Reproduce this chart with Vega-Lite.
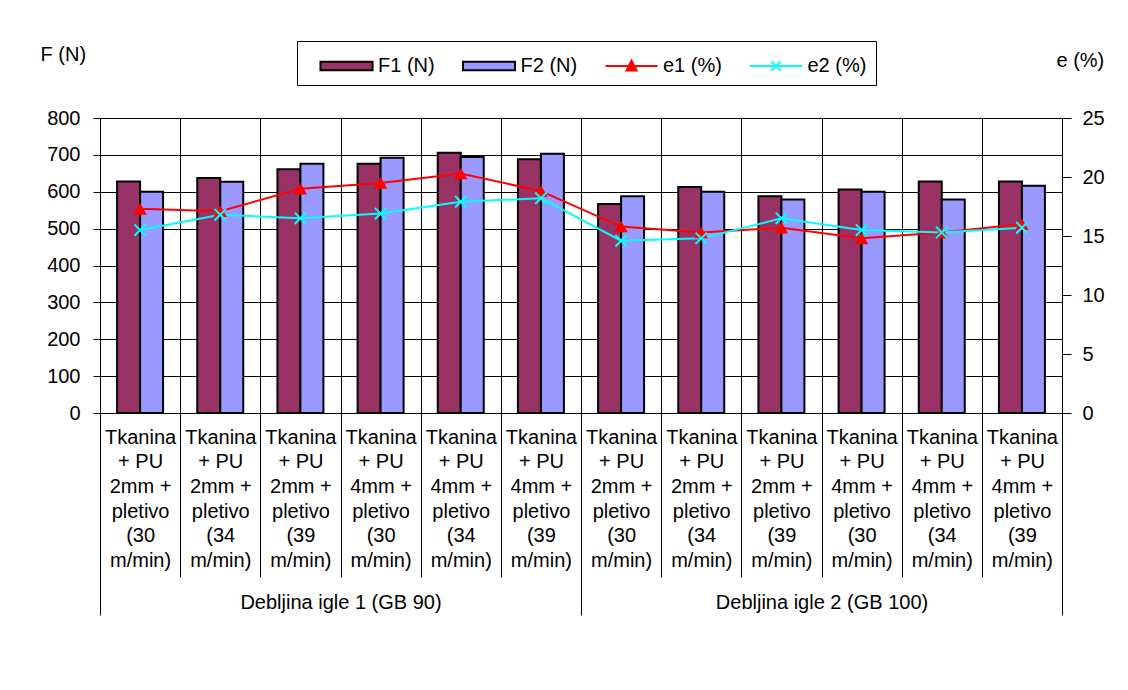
{
  "$schema": "https://vega.github.io/schema/vega-lite/v6.json",
  "autosize": "none",
  "padding": {"left": 100, "top": 118, "right": 66, "bottom": 277},
  "width": 962,
  "height": 295,
  "config": {
    "font": "Liberation Sans",
    "view": {"stroke": "#000", "strokeWidth": 1},
    "axis": {"labelFont": "Liberation Sans", "titleFont": "Liberation Sans", "labelColor": "#000", "titleColor": "#000", "domainColor": "#000", "tickColor": "#000", "gridColor": "#000", "gridOpacity": 1, "labelFontSize": 20, "titleFontSize": 20, "titleFontWeight": "normal"},
    "legend": {"labelFont": "Liberation Sans", "labelFontSize": 20, "labelColor": "#000", "symbolStrokeWidth": 2, "symbolOpacity": 1}
  },
  "data": {
    "values": [
      {"label": "a|Tkanina|+ PU|2mm +|pletivo|(30|m/min)", "group": "Debljina igle 1 (GB 90)", "F1": 628, "F2": 600, "e1": 17.3, "e2": 15.5},
      {"label": "b|Tkanina|+ PU|2mm +|pletivo|(34|m/min)", "group": "Debljina igle 1 (GB 90)", "F1": 637, "F2": 627, "e1": 17.1, "e2": 16.8},
      {"label": "c|Tkanina|+ PU|2mm +|pletivo|(39|m/min)", "group": "Debljina igle 1 (GB 90)", "F1": 661, "F2": 676, "e1": 19.0, "e2": 16.5},
      {"label": "d|Tkanina|+ PU|4mm +|pletivo|(30|m/min)", "group": "Debljina igle 1 (GB 90)", "F1": 676, "F2": 692, "e1": 19.5, "e2": 16.9},
      {"label": "e|Tkanina|+ PU|4mm +|pletivo|(34|m/min)", "group": "Debljina igle 1 (GB 90)", "F1": 706, "F2": 694, "e1": 20.3, "e2": 17.9},
      {"label": "f|Tkanina|+ PU|4mm +|pletivo|(39|m/min)", "group": "Debljina igle 1 (GB 90)", "F1": 688, "F2": 703, "e1": 18.8, "e2": 18.2},
      {"label": "g|Tkanina|+ PU|2mm +|pletivo|(30|m/min)", "group": "Debljina igle 2 (GB 100)", "F1": 567, "F2": 588, "e1": 15.8, "e2": 14.6},
      {"label": "h|Tkanina|+ PU|2mm +|pletivo|(34|m/min)", "group": "Debljina igle 2 (GB 100)", "F1": 613, "F2": 600, "e1": 15.3, "e2": 14.8},
      {"label": "i|Tkanina|+ PU|2mm +|pletivo|(39|m/min)", "group": "Debljina igle 2 (GB 100)", "F1": 588, "F2": 579, "e1": 15.7, "e2": 16.5},
      {"label": "j|Tkanina|+ PU|4mm +|pletivo|(30|m/min)", "group": "Debljina igle 2 (GB 100)", "F1": 606, "F2": 600, "e1": 14.8, "e2": 15.5},
      {"label": "k|Tkanina|+ PU|4mm +|pletivo|(34|m/min)", "group": "Debljina igle 2 (GB 100)", "F1": 628, "F2": 579, "e1": 15.3, "e2": 15.3},
      {"label": "l|Tkanina|+ PU|4mm +|pletivo|(39|m/min)", "group": "Debljina igle 2 (GB 100)", "F1": 628, "F2": 616, "e1": 16.0, "e2": 15.7}
    ]
  },
  "layer": [
    {
      "layer": [
        {
          "transform": [{"fold": ["F1", "F2"], "as": ["series", "value"]}],
          "mark": {"type": "bar", "stroke": "#000", "strokeWidth": 2},
          "encoding": {
            "x": {"field": "label", "type": "nominal", "sort": null,
              "scale": {"paddingInner": 0, "paddingOuter": 0},
              "axis": {"title": null, "labelExpr": "slice(split(datum.label, '|'), 1)", "labelAngle": 0, "labelBaseline": "top", "labelLineHeight": 24.7, "labelPadding": -150, "tickSize": 164, "tickBand": "extent", "grid": true, "labelOverlap": false, "labelLimit": 0, "labelFlush": false}},
            "xOffset": {"field": "series", "type": "nominal", "sort": ["F1", "F2"], "scale": {"paddingInner": 0, "paddingOuter": 0.743}},
            "y": {"field": "value", "type": "quantitative",
              "scale": {"domain": [0, 800], "nice": false},
              "axis": {"values": [0, 100, 200, 300, 400, 500, 600, 700, 800], "title": "F (N)", "titleAngle": 0, "titleX": -60, "titleY": -64, "titleAlign": "left", "titleBaseline": "middle", "tickSize": 7, "labelPadding": 13, "grid": true}},
            "color": {"field": "series", "type": "nominal",
              "scale": {"domain": ["F1", "F2", "e1", "e2"], "range": ["#993366", "#9999FF", "#FF0000", "#00FFFF"]},
              "legend": {
                "title": null, "orient": "none", "legendX": 197, "legendY": -77, "direction": "horizontal", "columns": 4,
                "strokeColor": "#000", "padding": 9, "symbolSize": 900, "labelOffset": 40, "columnPadding": 13.5,
                "labelExpr": "datum.label + (indexof(['F1','F2'], datum.label) >= 0 ? ' (N)' : ' (%)')"
              }}
          }
        },
        {
          "transform": [{"fold": ["e1", "e2"], "as": ["series", "value"]}],
          "mark": {"type": "line", "strokeWidth": 2},
          "encoding": {
            "x": {"field": "label", "type": "nominal", "sort": null},
            "y": {"field": "value", "type": "quantitative",
              "scale": {"domain": [0, 25], "nice": false},
              "axis": {"orient": "right", "values": [0, 5, 10, 15, 20, 25], "title": "e (%)", "titleAngle": 0, "titleX": -6, "titleY": -58, "titleAlign": "left", "titleBaseline": "middle", "tickSize": 9, "labelPadding": 11, "grid": false}},
            "stroke": {"field": "series", "type": "nominal",
              "scale": {"domain": ["F1", "F2", "e1", "e2"], "range": ["#000000", "#000000", "#FF0000", "#00FFFF"]},
              "legend": {
                "title": null, "orient": "none", "legendX": 197, "legendY": -77, "direction": "horizontal", "columns": 4,
                "strokeColor": "#000", "padding": 9, "symbolSize": 900, "labelOffset": 40, "columnPadding": 13.5,
                "labelExpr": "datum.label + (indexof(['F1','F2'], datum.label) >= 0 ? ' (N)' : ' (%)')"
              }}
          }
        },
        {
          "transform": [{"filter": "false"}],
          "mark": {"type": "point", "opacity": 1, "filled": true},
          "encoding": {
            "x": {"field": "label", "type": "nominal", "sort": null},
            "y": {"field": "e1", "type": "quantitative", "scale": {"domain": [0, 25], "nice": false}, "axis": null},
            "shape": {"field": "e1", "type": "nominal",
              "scale": {"domain": ["F1", "F2", "e1", "e2"], "range": ["M-0.1,-0.29H3.37V0.29H-0.1Z", "M-0.1,-0.29H3.37V0.29H-0.1Z", "M-0.1,0H3.37M1.3,0.3L1.635,-0.35L1.97,0.3Z", "M-0.1,0H3.37M1.335,-0.3L1.935,0.3M1.335,0.3L1.935,-0.3"]},
              "legend": {
                "title": null, "orient": "none", "legendX": 197, "legendY": -77, "direction": "horizontal", "columns": 4,
                "strokeColor": "#000", "padding": 9, "symbolSize": 900, "labelOffset": 40, "columnPadding": 13.5,
                "labelExpr": "datum.label + (indexof(['F1','F2'], datum.label) >= 0 ? ' (N)' : ' (%)')"
              }}
          }
        },
        {
          "mark": {"type": "point", "shape": "triangle-up", "filled": true, "color": "#FF0000", "size": 180, "opacity": 1},
          "encoding": {
            "x": {"field": "label", "type": "nominal", "sort": null},
            "y": {"field": "e1", "type": "quantitative", "scale": {"domain": [0, 25], "nice": false}, "axis": null}
          }
        },
        {
          "mark": {"type": "point", "shape": "M-1,-1L1,1M-1,1L1,-1", "filled": false, "stroke": "#00FFFF", "strokeWidth": 2, "size": 130, "opacity": 1},
          "encoding": {
            "x": {"field": "label", "type": "nominal", "sort": null},
            "y": {"field": "e2", "type": "quantitative", "scale": {"domain": [0, 25], "nice": false}, "axis": null}
          }
        }
      ],
      "resolve": {"scale": {"y": "independent"}}
    },
    {
      "mark": {"type": "point", "opacity": 0},
      "encoding": {
        "x": {"field": "group", "type": "nominal", "sort": null,
          "scale": {"paddingInner": 0, "paddingOuter": 0},
          "axis": {"orient": "bottom", "title": null, "labelAngle": 0, "domain": false, "grid": false, "tickSize": 202, "tickBand": "extent", "labelBaseline": "middle", "labelPadding": -13, "labelFlush": false, "labelLimit": 0}}
      }
    }
  ],
  "resolve": {"scale": {"x": "independent", "y": "independent"}}
}
